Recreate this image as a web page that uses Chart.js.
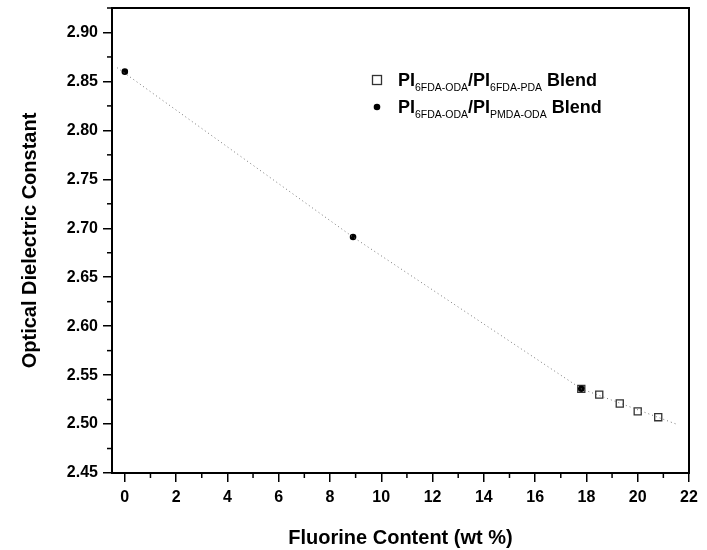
<!DOCTYPE html>
<html><head><meta charset="utf-8">
<script src="https://cdn.jsdelivr.net/npm/chart.js@4"></script>
<style>html,body{margin:0;padding:0;background:#fff}#wrap{width:707px;height:550px}</style>
</head><body><div id="wrap"><canvas id="c" width="707" height="550"></canvas></div>
<script>
// Data
const pmdaX = [0, 8.9, 17.8];
const pmdaY = [2.860, 2.691, 2.536];
const pdaX = [17.8, 18.5, 19.3, 20.0, 20.8];
const pdaY = [2.536, 2.530, 2.521, 2.513, 2.507];
const fitX = [-0.3, 8.9, 17.8, 21.5];
const fitY = [2.864, 2.691, 2.536, 2.500];
const xTicks = [0,2,4,6,8,10,12,14,16,18,20,22];
const yTicks = [2.45,2.50,2.55,2.60,2.65,2.70,2.75,2.80,2.85,2.90];
const legendRows = [
  {marker:'square', a:'6FDA-ODA', b:'6FDA-PDA'},
  {marker:'circle', a:'6FDA-ODA', b:'PMDA-ODA'}
];
const FONT = '"Liberation Sans", Arial, sans-serif';
const toPts = (xs, ys) => xs.map((x,i)=>({x, y: ys[i]}));

const framePlugin = {
  id:'frame',
  afterDraw(chart){
    const {ctx, chartArea:a, scales:{x,y}} = chart;
    ctx.save();
    ctx.strokeStyle='#000'; ctx.lineWidth=2;
    ctx.strokeRect(a.left, a.top, a.right-a.left, a.bottom-a.top);
    ctx.lineWidth=1.5;
    // minor ticks
    for(let v=1; v<22; v+=2){ const px=x.getPixelForValue(v); ctx.beginPath(); ctx.moveTo(px,a.bottom); ctx.lineTo(px,a.bottom+5); ctx.stroke(); }
    for(let v=2.475; v<2.925; v+=0.05){ const py=y.getPixelForValue(v); ctx.beginPath(); ctx.moveTo(a.left,py); ctx.lineTo(a.left-5,py); ctx.stroke(); }
    // legend
    const lx=377, sx=398;
    legendRows.forEach((r,i)=>{
      const cy = 80 + i*27;
      if(r.marker==='square'){ ctx.strokeStyle='#333'; ctx.lineWidth=1.3; ctx.strokeRect(lx-4.5, cy-4.5, 9, 9); }
      else { ctx.fillStyle='#000'; ctx.beginPath(); ctx.arc(lx, cy, 3.3, 0, Math.PI*2); ctx.fill(); }
      ctx.fillStyle='#000'; ctx.textBaseline='alphabetic';
      let px = sx; const base = cy+6;
      const big='bold 18px '+FONT, small='10.5px '+FONT;
      ctx.font=big; ctx.fillText('PI', px, base); px += ctx.measureText('PI').width;
      ctx.font=small; ctx.fillText(r.a, px, base+5); px += ctx.measureText(r.a).width;
      ctx.font=big; ctx.fillText('/PI', px, base); px += ctx.measureText('/PI').width;
      ctx.font=small; ctx.fillText(r.b, px, base+5); px += ctx.measureText(r.b).width + 5;
      ctx.font=big; ctx.fillText('Blend', px, base);
    });
    ctx.restore();
  }
};

new Chart(document.getElementById('c'), {
  type:'scatter',
  data:{datasets:[
    {label:'fit', data: toPts(fitX, fitY), showLine:true, borderColor:'#777', borderWidth:1, borderDash:[1,3], pointRadius:0, fill:false},
    {label:'PMDA', data: toPts(pmdaX, pmdaY), pointStyle:'circle', pointRadius:3.3, backgroundColor:'#000', borderColor:'#000', borderWidth:0},
    {label:'PDA', data: toPts(pdaX, pdaY), pointStyle:'rect', pointRadius:5, backgroundColor:'rgba(0,0,0,0)', borderColor:'#333', borderWidth:1.3}
  ]},
  options:{
    responsive:false, animation:false,
    layout:{padding:{top:8, right:18, left:0, bottom:0}},
    plugins:{legend:{display:false}, tooltip:{enabled:false}},
    scales:{
      x:{type:'linear', min:-0.5, max:22,
        afterBuildTicks(s){ s.ticks = xTicks.map(v=>({value:v})); },
        afterFit(s){ s.height = 77; },
        grid:{drawOnChartArea:false, drawTicks:true, tickLength:9, color:'#000', lineWidth:1.5},
        border:{display:false},
        ticks:{color:'#000', font:{family:FONT, size:16, weight:'bold'}, padding:6, maxRotation:0, callback:v=>String(v)},
        title:{display:true, text:'Fluorine Content (wt %)', color:'#000', font:{family:FONT, size:20, weight:'bold'}, padding:{top:20, bottom:0}}
      },
      y:{type:'linear', min:2.45, max:2.925,
        afterBuildTicks(s){ s.ticks = yTicks.map(v=>({value:v})); },
        afterFit(s){ s.width = 112; s.paddingTop = 0; s.paddingBottom = 0; },
        grid:{drawOnChartArea:false, drawTicks:true, tickLength:9, color:'#000', lineWidth:1.5},
        border:{display:false},
        ticks:{color:'#000', font:{family:FONT, size:16, weight:'bold'}, padding:5, callback:v=>v.toFixed(2)},
        title:{display:true, text:'Optical Dielectric Constant', color:'#000', font:{family:FONT, size:20, weight:'bold'}, padding:{top:18, bottom:4}}
      }
    }
  },
  plugins:[framePlugin]
});
</script></body></html>
